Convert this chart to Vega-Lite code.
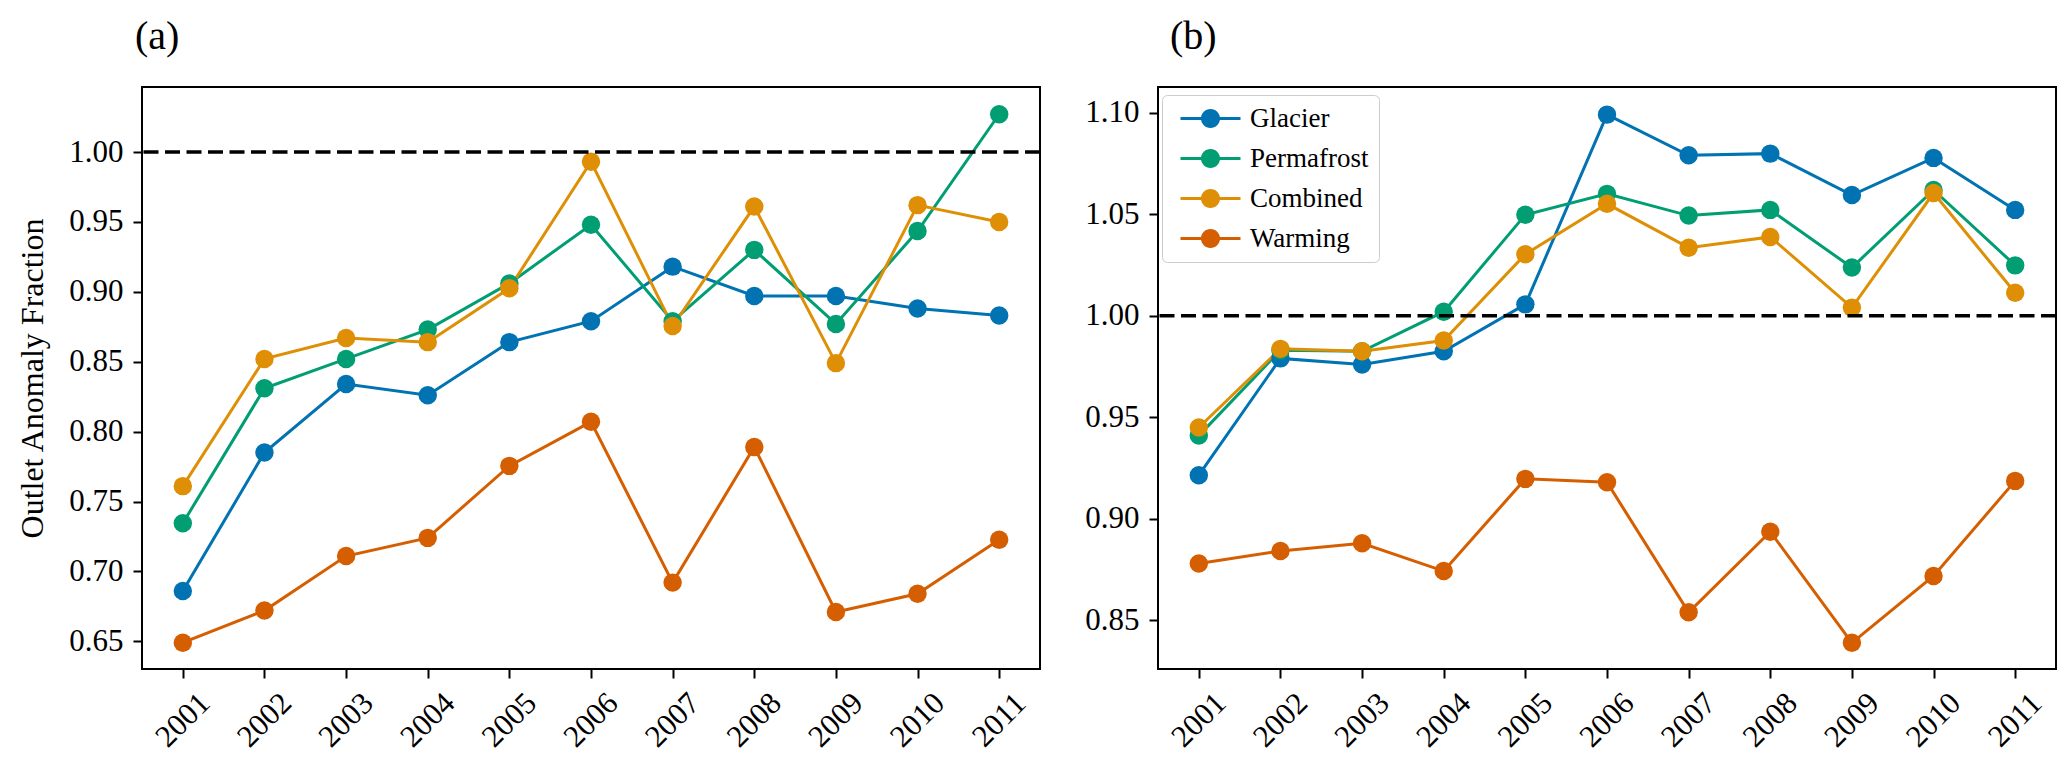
{
  "$schema": "https://vega.github.io/schema/vega-lite/v6.json",
  "background": "white",
  "padding": {"left": 15, "top": 16, "right": 5, "bottom": 5},
  "datasets": {
    "a": [
      {"year": 2001, "series": "Glacier", "value": 0.686},
      {"year": 2002, "series": "Glacier", "value": 0.785},
      {"year": 2003, "series": "Glacier", "value": 0.834},
      {"year": 2004, "series": "Glacier", "value": 0.826},
      {"year": 2005, "series": "Glacier", "value": 0.864},
      {"year": 2006, "series": "Glacier", "value": 0.879},
      {"year": 2007, "series": "Glacier", "value": 0.918},
      {"year": 2008, "series": "Glacier", "value": 0.897},
      {"year": 2009, "series": "Glacier", "value": 0.897},
      {"year": 2010, "series": "Glacier", "value": 0.888},
      {"year": 2011, "series": "Glacier", "value": 0.883},
      {"year": 2001, "series": "Permafrost", "value": 0.7345},
      {"year": 2002, "series": "Permafrost", "value": 0.831},
      {"year": 2003, "series": "Permafrost", "value": 0.852},
      {"year": 2004, "series": "Permafrost", "value": 0.873},
      {"year": 2005, "series": "Permafrost", "value": 0.906},
      {"year": 2006, "series": "Permafrost", "value": 0.948},
      {"year": 2007, "series": "Permafrost", "value": 0.879},
      {"year": 2008, "series": "Permafrost", "value": 0.930},
      {"year": 2009, "series": "Permafrost", "value": 0.877},
      {"year": 2010, "series": "Permafrost", "value": 0.9435},
      {"year": 2011, "series": "Permafrost", "value": 1.027},
      {"year": 2001, "series": "Combined", "value": 0.761},
      {"year": 2002, "series": "Combined", "value": 0.852},
      {"year": 2003, "series": "Combined", "value": 0.867},
      {"year": 2004, "series": "Combined", "value": 0.864},
      {"year": 2005, "series": "Combined", "value": 0.9025},
      {"year": 2006, "series": "Combined", "value": 0.993},
      {"year": 2007, "series": "Combined", "value": 0.8755},
      {"year": 2008, "series": "Combined", "value": 0.961},
      {"year": 2009, "series": "Combined", "value": 0.849},
      {"year": 2010, "series": "Combined", "value": 0.962},
      {"year": 2011, "series": "Combined", "value": 0.950},
      {"year": 2001, "series": "Warming", "value": 0.649},
      {"year": 2002, "series": "Warming", "value": 0.672},
      {"year": 2003, "series": "Warming", "value": 0.711},
      {"year": 2004, "series": "Warming", "value": 0.724},
      {"year": 2005, "series": "Warming", "value": 0.7755},
      {"year": 2006, "series": "Warming", "value": 0.807},
      {"year": 2007, "series": "Warming", "value": 0.692},
      {"year": 2008, "series": "Warming", "value": 0.789},
      {"year": 2009, "series": "Warming", "value": 0.671},
      {"year": 2010, "series": "Warming", "value": 0.684},
      {"year": 2011, "series": "Warming", "value": 0.7226}
    ],
    "b": [
      {"year": 2001, "series": "Glacier", "value": 0.9215},
      {"year": 2002, "series": "Glacier", "value": 0.979},
      {"year": 2003, "series": "Glacier", "value": 0.976},
      {"year": 2004, "series": "Glacier", "value": 0.9825},
      {"year": 2005, "series": "Glacier", "value": 1.0056},
      {"year": 2006, "series": "Glacier", "value": 1.099},
      {"year": 2007, "series": "Glacier", "value": 1.079},
      {"year": 2008, "series": "Glacier", "value": 1.0798},
      {"year": 2009, "series": "Glacier", "value": 1.0594},
      {"year": 2010, "series": "Glacier", "value": 1.0777},
      {"year": 2011, "series": "Glacier", "value": 1.0521},
      {"year": 2001, "series": "Permafrost", "value": 0.941},
      {"year": 2002, "series": "Permafrost", "value": 0.983},
      {"year": 2003, "series": "Permafrost", "value": 0.9825},
      {"year": 2004, "series": "Permafrost", "value": 1.002},
      {"year": 2005, "series": "Permafrost", "value": 1.0497},
      {"year": 2006, "series": "Permafrost", "value": 1.060},
      {"year": 2007, "series": "Permafrost", "value": 1.0493},
      {"year": 2008, "series": "Permafrost", "value": 1.0521},
      {"year": 2009, "series": "Permafrost", "value": 1.0237},
      {"year": 2010, "series": "Permafrost", "value": 1.0619},
      {"year": 2011, "series": "Permafrost", "value": 1.0248},
      {"year": 2001, "series": "Combined", "value": 0.945},
      {"year": 2002, "series": "Combined", "value": 0.9837},
      {"year": 2003, "series": "Combined", "value": 0.9825},
      {"year": 2004, "series": "Combined", "value": 0.9878},
      {"year": 2005, "series": "Combined", "value": 1.0303},
      {"year": 2006, "series": "Combined", "value": 1.0551},
      {"year": 2007, "series": "Combined", "value": 1.0335},
      {"year": 2008, "series": "Combined", "value": 1.0388},
      {"year": 2009, "series": "Combined", "value": 1.004},
      {"year": 2010, "series": "Combined", "value": 1.0604},
      {"year": 2011, "series": "Combined", "value": 1.0113},
      {"year": 2001, "series": "Warming", "value": 0.878},
      {"year": 2002, "series": "Warming", "value": 0.8842},
      {"year": 2003, "series": "Warming", "value": 0.888},
      {"year": 2004, "series": "Warming", "value": 0.8743},
      {"year": 2005, "series": "Warming", "value": 0.9197},
      {"year": 2006, "series": "Warming", "value": 0.918},
      {"year": 2007, "series": "Warming", "value": 0.854},
      {"year": 2008, "series": "Warming", "value": 0.8937},
      {"year": 2009, "series": "Warming", "value": 0.839},
      {"year": 2010, "series": "Warming", "value": 0.8719},
      {"year": 2011, "series": "Warming", "value": 0.9187}
    ],
    "ref": [{"ref": 1.0}]
  },
  "config": {
    "font": "Liberation Serif",
    "view": {"stroke": "black", "strokeWidth": 2},
    "axis": {
      "labelFont": "Liberation Serif",
      "labelFontSize": 31,
      "labelColor": "black",
      "titleFont": "Liberation Serif",
      "titleFontSize": 32,
      "titleFontWeight": "normal",
      "titleColor": "black",
      "tickColor": "black",
      "tickWidth": 2,
      "tickSize": 9,
      "domain": false,
      "grid": false,
      "labelOverlap": false,
      "labelFlush": false
    }
  },
  "spacing": 40,
  "resolve": {"scale": {"color": "independent", "y": "independent"}},
  "hconcat": [
    {
      "width": 898,
      "height": 582,
      "title": {"text": "(a)", "anchor": "start", "frame": "group", "fontSize": 40, "font": "Liberation Serif", "fontWeight": "normal", "color": "black", "dx": -7, "offset": 30},
      "layer": [
        {
          "data": {"name": "a"},
          "mark": {"type": "line", "strokeWidth": 3, "point": {"filled": true, "size": 340, "opacity": 1}},
          "encoding": {
            "x": {"field": "year", "type": "quantitative", "scale": {"domain": [2000.5, 2011.5], "nice": false, "zero": false},
                  "axis": {"title": null, "values": [2001, 2002, 2003, 2004, 2005, 2006, 2007, 2008, 2009, 2010, 2011], "format": "d", "labelFont": "Liberation Serif", "labelAngle": -45, "labelAlign": "center", "labelBaseline": "middle", "labelPadding": 42}},
            "y": {"field": "value", "type": "quantitative", "scale": {"domain": [0.6302, 1.0465], "nice": false, "zero": false},
                  "axis": {"title": "Outlet Anomaly Fraction", "values": [0.65, 0.7, 0.75, 0.8, 0.85, 0.9, 0.95, 1.0], "format": ".2f", "labelFont": "Liberation Serif", "labelPadding": 10, "titlePadding": 19.5}},
            "color": {"field": "series", "type": "nominal", "scale": {"domain": ["Glacier", "Permafrost", "Combined", "Warming"], "range": ["#0173b2", "#029e73", "#de8f05", "#d55e00"]}, "legend": null}
          }
        },
        {
          "data": {"name": "ref"},
          "mark": {"type": "rule", "color": "black", "strokeWidth": 3.5, "strokeDash": [15, 6.5]},
          "encoding": {"y": {"field": "ref", "type": "quantitative"}}
        }
      ]
    },
    {
      "width": 898,
      "height": 582,
      "title": {"text": "(b)", "anchor": "start", "frame": "group", "fontSize": 40, "font": "Liberation Serif", "fontWeight": "normal", "color": "black", "dx": 12, "offset": 30},
      "layer": [
        {
          "data": {"name": "b"},
          "mark": {"type": "line", "strokeWidth": 3, "point": {"filled": true, "size": 340, "opacity": 1}},
          "encoding": {
            "x": {"field": "year", "type": "quantitative", "scale": {"domain": [2000.5, 2011.5], "nice": false, "zero": false},
                  "axis": {"title": null, "values": [2001, 2002, 2003, 2004, 2005, 2006, 2007, 2008, 2009, 2010, 2011], "format": "d", "labelFont": "Liberation Serif", "labelAngle": -45, "labelAlign": "center", "labelBaseline": "middle", "labelPadding": 42}},
            "y": {"field": "value", "type": "quantitative", "scale": {"domain": [0.8261, 1.1126], "nice": false, "zero": false},
                  "axis": {"title": null, "values": [0.85, 0.9, 0.95, 1.0, 1.05, 1.1], "format": ".2f", "labelFont": "Liberation Serif", "labelPadding": 10}},
            "color": {"field": "series", "type": "nominal", "scale": {"domain": ["Glacier", "Permafrost", "Combined", "Warming"], "range": ["#0173b2", "#029e73", "#de8f05", "#d55e00"]},
                      "legend": {
                        "orient": "none", "legendX": 4, "legendY": 8, "title": null,
                        "symbolType": "M-0.5,-0.15L5.5,-0.15L5.5,0.15L-0.5,0.15Z M3.45,0 C3.45,0.5247 3.0247,0.95 2.5,0.95 C1.9753,0.95 1.55,0.5247 1.55,0 C1.55,-0.5247 1.9753,-0.95 2.5,-0.95 C3.0247,-0.95 3.45,-0.5247 3.45,0 Z",
                        "symbolSize": 400, "symbolStrokeWidth": 0, "symbolOpacity": 1,
                        "labelFont": "Liberation Serif", "labelFontSize": 27, "labelColor": "black", "labelOffset": 51,
                        "rowPadding": 12, "padding": 10,
                        "strokeColor": "#cccccc", "fillColor": "rgba(255,255,255,0.8)", "cornerRadius": 5,
                        "encode": {"symbols": {"update": {
                          "fill": {"signal": "datum.value === 'Glacier' ? '#0173b2' : datum.value === 'Permafrost' ? '#029e73' : datum.value === 'Combined' ? '#de8f05' : '#d55e00'"},
                          "stroke": {"value": "transparent"},
                          "strokeWidth": {"value": 0},
                          "opacity": {"value": 1}
                        }}}
                      }}
          }
        },
        {
          "data": {"name": "ref"},
          "mark": {"type": "rule", "color": "black", "strokeWidth": 3.5, "strokeDash": [15, 6.5]},
          "encoding": {"y": {"field": "ref", "type": "quantitative"}}
        }
      ]
    }
  ]
}
